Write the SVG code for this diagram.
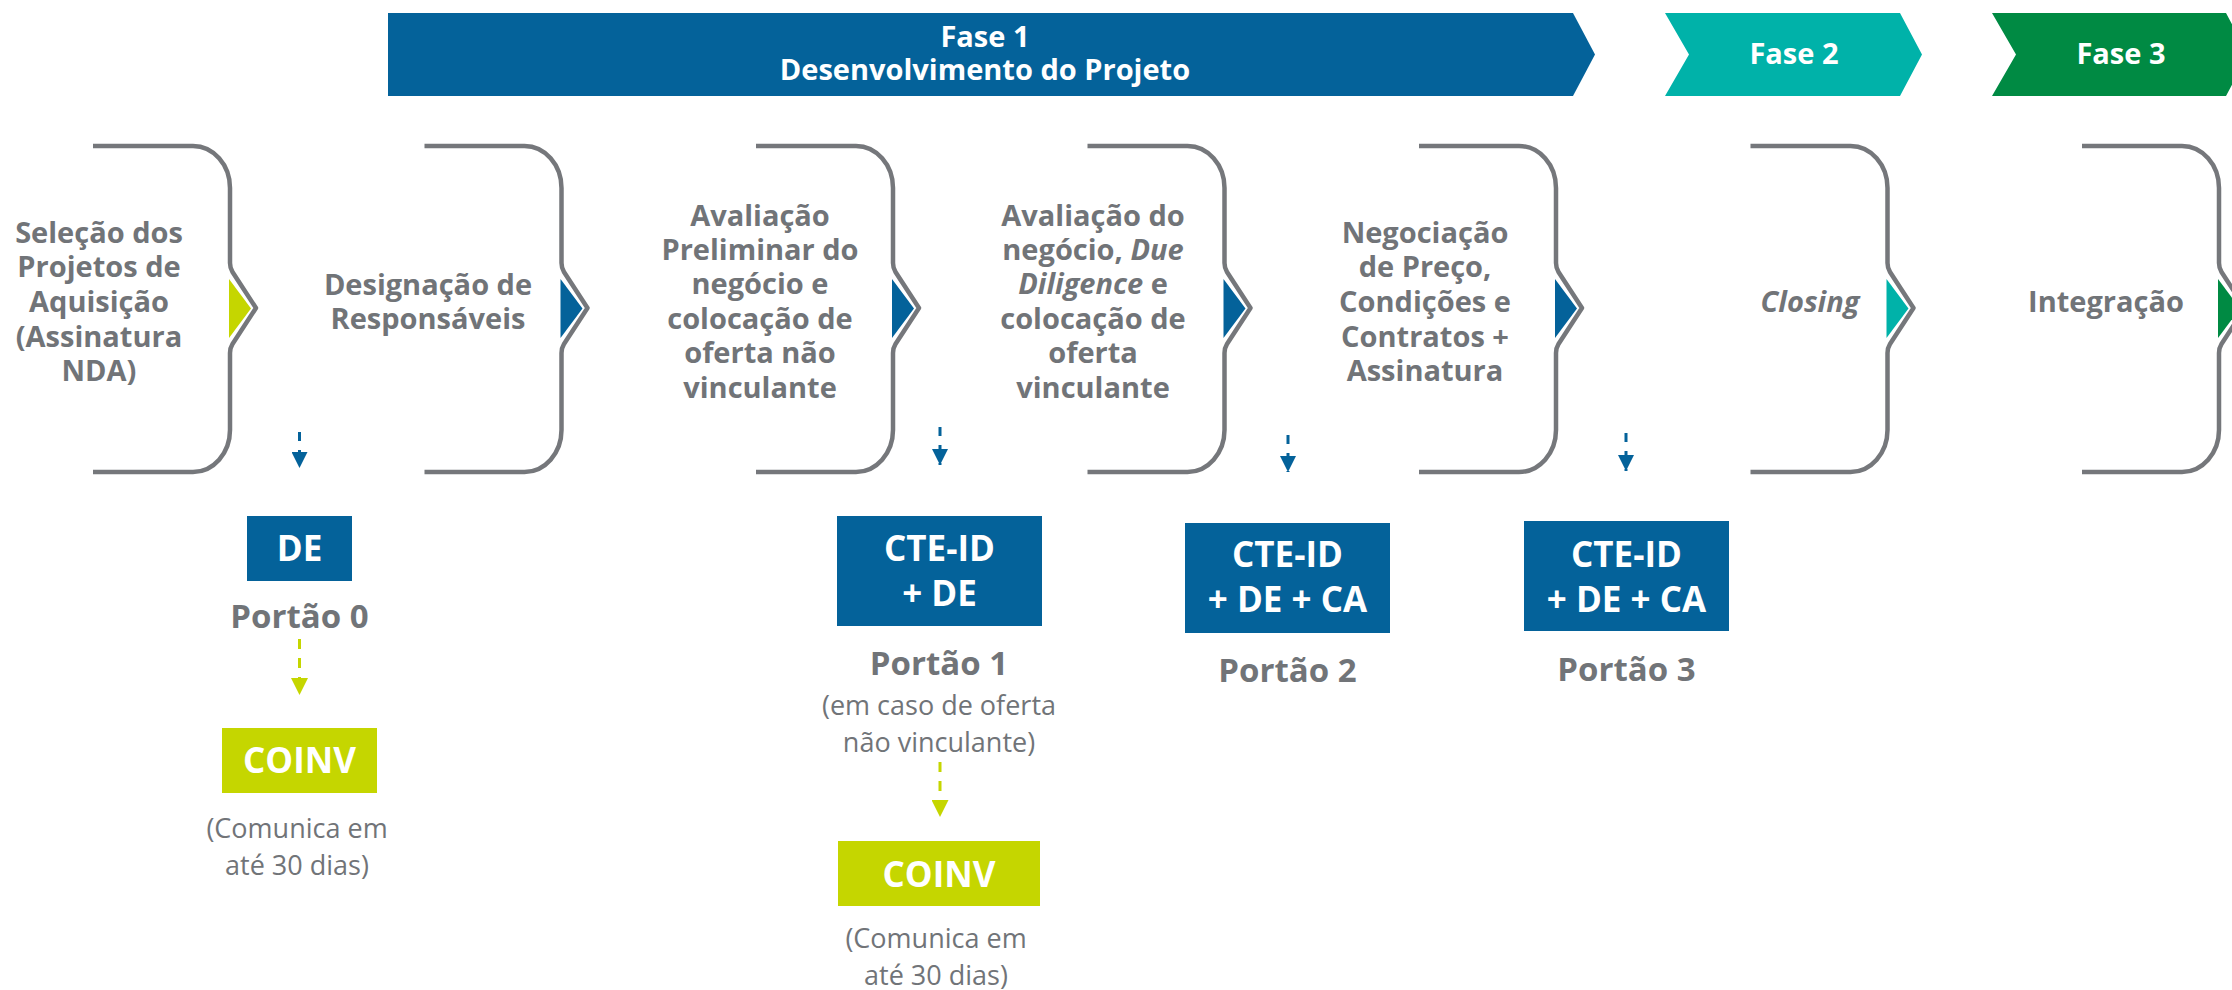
<svg xmlns="http://www.w3.org/2000/svg" width="2232" height="990" viewBox="0 0 2232 990">
<style>
text{font-family:"Open Sans","Noto Sans","Liberation Sans",sans-serif;text-anchor:middle}
.st{font-size:29px;font-weight:700;fill:#717478}
.ph{font-size:29px;font-weight:700;fill:#ffffff}
.bx{font-size:35px;font-weight:700;fill:#ffffff}
.pt{font-size:33px;font-weight:700;fill:#717478}
.nt{font-size:27px;font-weight:400;fill:#717478}
.br{fill:none;stroke:#75777b;stroke-width:4.5;stroke-linejoin:round;stroke-linecap:butt}
.blue{fill:#04629a}
.teal{fill:#00b2a9}
.green{fill:#008a43}
.lime{fill:#c5d600}
.cb{fill:none;stroke:#04629a;stroke-width:3;stroke-dasharray:9 9}
.cl{fill:none;stroke:#c5d600;stroke-width:3;stroke-dasharray:10 9}
</style>
<defs>
<path id="brk" d="M-137,146 H-37 C-16.6,146 0,164.8 0,188 V263 Q0,268 2.5,272 L26,308 L2.5,344 Q0,348 0,353 V430 C0,453.2 -16.6,472 -37,472 H-137"/>
<marker id="ab" markerUnits="userSpaceOnUse" viewBox="0 0 16 16" refX="8" refY="16" markerWidth="16" markerHeight="16" orient="0"><path d="M0,0 L16,0 L8,16 Z" fill="#04629a"/></marker>
<marker id="al" markerUnits="userSpaceOnUse" viewBox="0 0 17 17" refX="8.5" refY="17" markerWidth="17" markerHeight="17" orient="0"><path d="M0,0 L17,0 L8.5,17 Z" fill="#c5d600"/></marker>
</defs>

<g id="fase1">
<polygon class="blue" points="388,13 1573,13 1595,54.5 1573,96 388,96"/>
<text class="ph" x="985" y="47">Fase 1</text>
<text class="ph" x="985" y="80">Desenvolvimento do Projeto</text>
</g>
<g id="fase2">
<polygon class="teal" points="1665,13 1900,13 1922,54.5 1900,96 1665,96 1689,54.5"/>
<text class="ph" x="1794" y="64">Fase 2</text>
</g>
<g id="fase3">
<polygon class="green" points="1992,13 2226,13 2248,54.5 2226,96 1992,96 2016,54.5"/>
<text class="ph" x="2121" y="64">Fase 3</text>
</g>

<g id="step1">
<use href="#brk" class="br" transform="translate(230,0)"/>
<polygon class="lime" points="229,279 251,308.5 229,338"/>
<text class="st" x="99"><tspan x="99" y="243">Seleção dos</tspan><tspan x="99" y="277">Projetos de</tspan><tspan x="99" y="312">Aquisição</tspan><tspan x="99" y="347">(Assinatura</tspan><tspan x="99" y="381">NDA)</tspan></text>
</g>
<g id="step2">
<use href="#brk" class="br" transform="translate(561.5,0)"/>
<polygon class="blue" points="560.5,279 582.5,308.5 560.5,338"/>
<text class="st"><tspan x="428" y="295">Designação de</tspan><tspan x="428" y="329">Responsáveis</tspan></text>
</g>
<g id="step3">
<use href="#brk" class="br" transform="translate(893,0)"/>
<polygon class="blue" points="892,279 914,308.5 892,338"/>
<text class="st"><tspan x="760" y="226">Avaliação</tspan><tspan x="760" y="260">Preliminar do</tspan><tspan x="760" y="294">negócio e</tspan><tspan x="760" y="329">colocação de</tspan><tspan x="760" y="363">oferta não</tspan><tspan x="760" y="398">vinculante</tspan></text>
</g>
<g id="step4">
<use href="#brk" class="br" transform="translate(1224.5,0)"/>
<polygon class="blue" points="1223.5,279 1245.5,308.5 1223.5,338"/>
<text class="st"><tspan x="1093" y="226">Avaliação do</tspan><tspan x="1093" y="260">negócio, <tspan font-style="italic">Due</tspan></tspan><tspan x="1093" y="294"><tspan font-style="italic">Diligence</tspan> e</tspan><tspan x="1093" y="329">colocação de</tspan><tspan x="1093" y="363">oferta</tspan><tspan x="1093" y="398">vinculante</tspan></text>
</g>
<g id="step5">
<use href="#brk" class="br" transform="translate(1556,0)"/>
<polygon class="blue" points="1555,279 1577,308.5 1555,338"/>
<text class="st"><tspan x="1425" y="243">Negociação</tspan><tspan x="1425" y="277">de Preço,</tspan><tspan x="1425" y="312">Condições e</tspan><tspan x="1425" y="347">Contratos +</tspan><tspan x="1425" y="381">Assinatura</tspan></text>
</g>
<g id="step6">
<use href="#brk" class="br" transform="translate(1887.5,0)"/>
<polygon class="teal" points="1886.5,279 1908.5,308.5 1886.5,338"/>
<text class="st" x="1810" y="312" font-style="italic">Closing</text>
</g>
<g id="step7">
<use href="#brk" class="br" transform="translate(2219,0)"/>
<polygon class="green" points="2218,279 2240,308.5 2218,338"/>
<text class="st" x="2106" y="312">Integração</text>
</g>

<g id="gate0">
<rect class="blue" x="247" y="516" width="105" height="65"/>
<text class="bx" x="299.5" y="561">DE</text>
<text class="pt" x="299.5" y="628">Portão 0</text>
</g>
<g id="coinv0">
<rect class="lime" x="222" y="728" width="155" height="65"/>
<text class="bx" x="299.5" y="773">COINV</text>
<text class="nt"><tspan x="297" y="838">(Comunica em</tspan><tspan x="297" y="875">até 30 dias)</tspan></text>
</g>
<g id="gate1">
<rect class="blue" x="837" y="516" width="205" height="110"/>
<text class="bx"><tspan x="939.5" y="561">CTE-ID</tspan><tspan x="939.5" y="606">+ DE</tspan></text>
<text class="pt" x="939" y="675">Portão 1</text>
<text class="nt"><tspan x="939" y="715">(em caso de oferta</tspan><tspan x="939" y="752">não vinculante)</tspan></text>
</g>
<g id="coinv1">
<rect class="lime" x="838" y="841" width="202" height="65"/>
<text class="bx" x="939" y="887">COINV</text>
<text class="nt"><tspan x="936" y="948">(Comunica em</tspan><tspan x="936" y="985">até 30 dias)</tspan></text>
</g>
<g id="gate2">
<rect class="blue" x="1185" y="523" width="205" height="110"/>
<text class="bx"><tspan x="1287.5" y="567">CTE-ID</tspan><tspan x="1287.5" y="612">+ DE + CA</tspan></text>
<text class="pt" x="1287.5" y="682">Portão 2</text>
</g>
<g id="gate3">
<rect class="blue" x="1524" y="521" width="205" height="110"/>
<text class="bx"><tspan x="1626.5" y="567">CTE-ID</tspan><tspan x="1626.5" y="612">+ DE + CA</tspan></text>
<text class="pt" x="1626.5" y="681">Portão 3</text>
</g>

<g id="connectors">
<path class="cb" d="M299.5,432 V468" marker-end="url(#ab)"/>
<path class="cb" d="M940,427 V465" marker-end="url(#ab)"/>
<path class="cb" d="M1288,435 V472" marker-end="url(#ab)"/>
<path class="cb" d="M1626,433 V471" marker-end="url(#ab)"/>
<path class="cl" d="M299.5,639 V695" marker-end="url(#al)"/>
<path class="cl" d="M940,762 V817" marker-end="url(#al)"/>
</g>
</svg>
